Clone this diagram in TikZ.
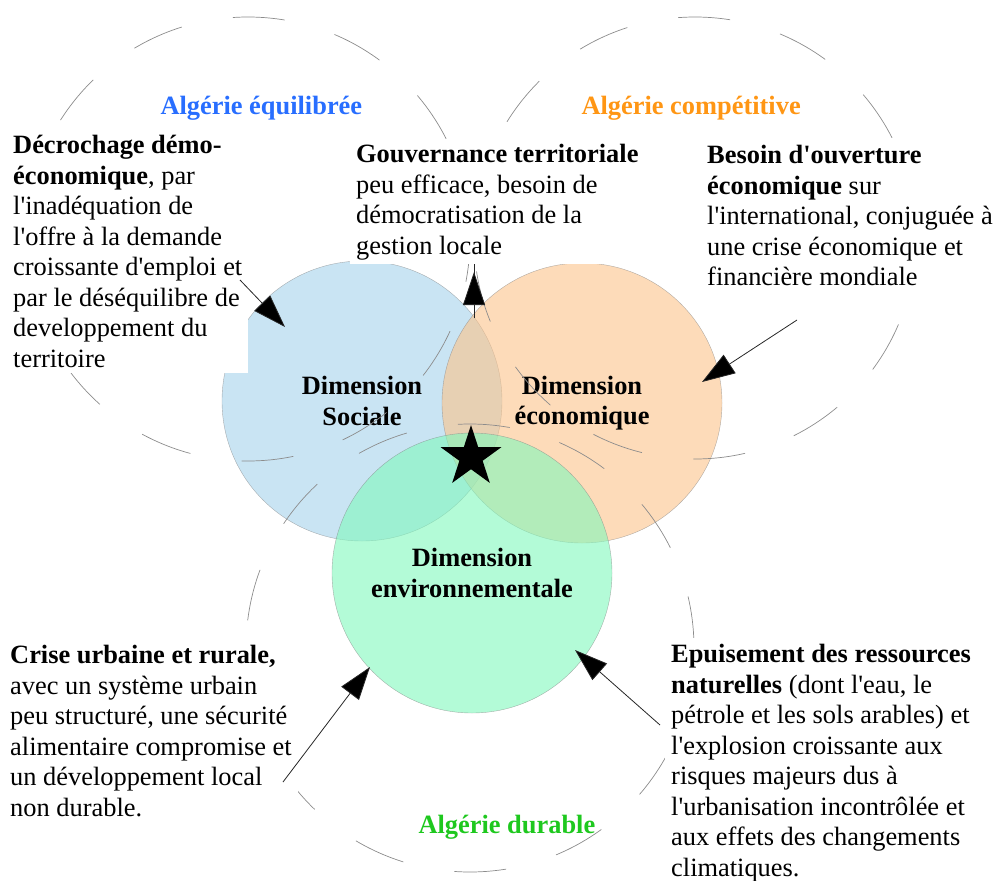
\documentclass[tikz,border=0pt]{standalone}
\usepackage{fontspec}
\setmainfont{Liberation Serif}[Ligatures=TeXOff]
\usetikzlibrary{positioning,arrows.meta,shapes.geometric}

\definecolor{socblue}{RGB}{165,210,235}
\definecolor{ecoorange}{RGB}{252,195,138}
\definecolor{envgreen}{RGB}{128,248,188}
\definecolor{eqblue}{RGB}{40,110,255}
\definecolor{competorange}{RGB}{255,150,20}
\definecolor{durgreen}{RGB}{30,200,30}

\newcommand{\txtsize}{\fontsize{26.4}{30.5}\selectfont}

\begin{document}
\begin{tikzpicture}
		[
		x = 1pt, y = -1pt,
		dimcircle/.style = {circle, draw=gray, minimum size=280pt, inner sep=0pt,
			fill opacity=0.6, draw opacity=0.6, text opacity=1,
			align=center, font=\txtsize\bfseries},
		ring/.style      = {draw=black!45, line width=0.7pt, dash pattern=on 52pt off 52pt},
		txtbox/.style    = {fill=white, align=left, anchor=north west, inner sep=6pt, font=\txtsize},
		axis/.style      = {anchor=base west, font=\txtsize\bfseries},
		pointer/.style   = {draw=black!85, line width=0.8pt, -{Triangle[length=33pt, width=22pt, fill=black]}}
		]
		\useasboundingbox (0,0) rectangle (995,880);
		% the three dimensions
		\node[dimcircle, fill=socblue]   (soc) at (362,401) {Dimension\\Sociale};
		\node[dimcircle, fill=ecoorange] (eco) at (582,403) {Dimension\\économique};
		\node[dimcircle, fill=envgreen]  (env) at (472,573) {Dimension\\environnementale};
		% dashed rings
		\draw[ring] (248,239) circle[radius=222pt];
		\draw[ring] (695,238) circle[radius=221pt];
		\draw[ring] (470,648) circle[radius=224pt];
		% texts
		\node[txtbox] (dec) at (7,129)
		{\textbf{Décrochage démo-}\\\textbf{économique}, par\\l'inadéquation de\\l'offre à la demande\\croissante d'emploi et\\par le déséquilibre de\\developpement du\\territoire};
		\node[txtbox, inner ysep=4pt] (gov) at (350,140)
		{\textbf{Gouvernance territoriale}\\peu efficace, besoin de\\démocratisation de la\\gestion locale};
		\node[txtbox] (ouv) at (701,139)
		{\textbf{Besoin d'ouverture}\\\textbf{économique} sur\\l'international, conjuguée à\\une crise économique et\\financière mondiale};
		\node[txtbox] (crise) at (4,639)
		{\textbf{Crise urbaine et rurale,}\\avec un système urbain\\peu structuré, une sécurité\\alimentaire compromise et\\un développement local\\non durable.};
		\node[txtbox] (epuis) at (665,638)
		{\textbf{Epuisement des ressources}\\\textbf{naturelles} (dont l'eau, le\\pétrole et les sols arables) et\\l'explosion croissante aux\\risques majeurs dus à\\l'urbanisation incontrôlée et\\aux effets des changements\\climatiques.};
		% arrows
		\coordinate (decfrom) at (240,280);
		\coordinate (decto) at (285,327);
		\coordinate (govfoot) at (474,318);
		\coordinate (ouvfrom) at (797,320);
		\coordinate (ouvto) at (702,382);
		\coordinate (crisefrom) at (283,782);
		\coordinate (criseto) at (370,667);
		\coordinate (epuisfrom) at (660,725);
		\coordinate (epuisto) at (575,650);
		\draw[pointer] (decfrom) -- (decto);
		\draw[draw=black!85, line width=0.8pt] (govfoot) -- (govfoot |- gov.south);
		\draw[pointer] (govfoot) -- ++(0,-46);
		\draw[pointer] (ouvfrom) -- (ouvto);
		\draw[pointer] (crisefrom) -- (criseto);
		\draw[pointer] (epuisfrom) -- (epuisto);
		% titles
		\node[axis, text=eqblue]       (equ)  at (157,115) {Algérie équilibrée};
		\node[axis, text=competorange] (comp) at (578,115) {Algérie compétitive};
		\node[axis, text=durgreen]     (dur)  at (415,833) {Algérie durable};
		\node[star, star points=5, star point ratio=2.618, fill=black,
		minimum size=64pt, inner sep=0pt] (core) at (471,457) {};
\end{tikzpicture}
\end{document}
